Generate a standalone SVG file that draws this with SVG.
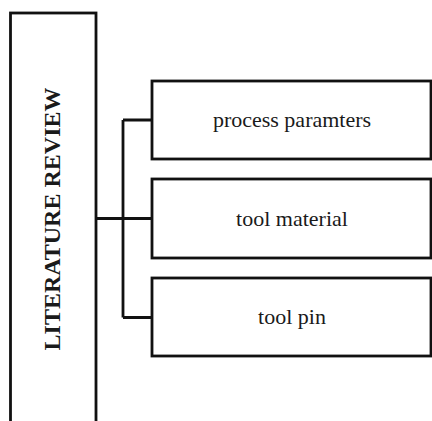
<svg xmlns="http://www.w3.org/2000/svg" width="432" height="421" viewBox="0 0 432 421">
<style>
.box{fill:#fff;stroke:#111;stroke-width:2.8}
.lbl{font-family:"Liberation Serif","Times New Roman",serif;font-size:22px;fill:#1a1a1a;text-anchor:middle}
.title{font-family:"Liberation Serif","Times New Roman",serif;font-size:24px;font-weight:bold;fill:#1a1a1a;text-anchor:middle}
.conn{fill:none;stroke:#111;stroke-width:2.8}
</style>
<rect width="432" height="421" fill="#fff"/>
<g id="connectors">
<path class="conn" d="M96 218.5H152M123 120V317.5M123 120H152M123 317.5H152"/>
</g>
<g id="literature-review">
<rect class="box" x="10.5" y="13" width="85.5" height="420"/>
<text class="title" transform="translate(60 219) rotate(-90)">LITERATURE REVIEW</text>
</g>
<g id="process-paramters">
<rect class="box" x="152" y="81" width="279" height="78"/>
<text class="lbl" x="292" y="127">process paramters</text>
</g>
<g id="tool-material">
<rect class="box" x="152" y="179" width="279" height="79"/>
<text class="lbl" x="292" y="226">tool material</text>
</g>
<g id="tool-pin">
<rect class="box" x="152" y="278" width="279" height="78"/>
<text class="lbl" x="292" y="324">tool pin</text>
</g>
</svg>
